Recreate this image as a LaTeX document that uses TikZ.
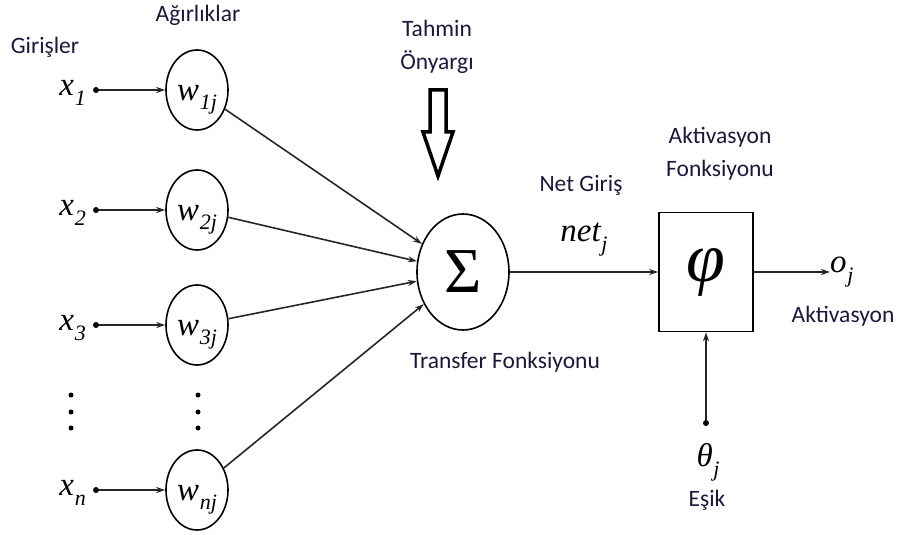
\documentclass[tikz,border=0pt]{standalone}
\usepackage{fontspec}
\setmainfont{Carlito}
\newfontfamily\tms{Liberation Serif}
\usetikzlibrary{shapes.geometric,arrows.meta}
\definecolor{yazi}{RGB}{25,25,60}
% italik harf ve alt indis
\newcommand{\ind}[2]{{\tms\itshape #1\kern0.02em\raisebox{-0.3em}{\fontsize{22}{24}\selectfont #2}}}
\tikzset{
	agirlik/.style={draw, ellipse, line width=1.6pt, minimum width=62pt,
		minimum height=80pt, inner sep=0pt, text height=24pt, text depth=4pt},
	ok/.style={line width=1.6pt, draw=black!85, -{Stealth[length=9pt,width=6pt]}},
	etiket/.style={text=yazi, font=\fontsize{23.5}{26}\selectfont},
	nokta/.style={circle, fill=black, inner sep=0pt, minimum size=6pt},
	buyuk/.style={font=\fontsize{33}{36}\selectfont},
}
\begin{document}
\begin{tikzpicture}[x=1pt,y=-1pt]
	\useasboundingbox (0,0) rectangle (898,535);
	% Girişler ve ağırlıklar
	\foreach \i/\y in {1/90, 2/210, 3/325, n/490}{
		\node[buyuk, anchor=east, inner sep=0pt] (x\i) at (86,\y+3) {\ind{x}{\i}};
		\node[nokta] (d\i) at (96,\y) {};
		\node[agirlik, buyuk] (w\i) at (197,\y) {\ind{w}{\i j}};
		\draw[ok] (d\i) -- (w\i);
	}
	% Noktalar
	\foreach \y in {395,412,428}{
		\node[nokta, minimum size=5pt] (px\y) at (71,\y) {};
		\node[nokta, minimum size=5pt] (pw\y) at (198,\y) {};
	}
	% Toplama
	\node[draw, ellipse, line width=1.6pt, minimum width=92pt,
		minimum height=116pt, inner sep=0pt] (sigma) at (463,272)
		{\fontsize{64}{64}\selectfont\tms Σ};
	\foreach \i in {1,2,3,n}
		\draw[ok] (w\i) -- (sigma);
	% Aktivasyon
	\node[draw, line width=1.6pt, minimum width=94pt, minimum height=119pt,
		inner sep=0pt] (phi) at (706,272) {\fontsize{70}{70}\selectfont\tms\itshape φ};
	\draw[ok] (sigma) -- (phi);
	\node[buyuk, anchor=west, inner sep=0pt] (o) at (830,272) {\ind{o}{j}};
	\draw[ok] (phi.east) -- (o.west |- phi.east);
	\node[nokta] (dt) at (706,423) {};
	\draw[ok] (dt) -- (phi);
	\node[buyuk] (theta) at (708,462) {\ind{θ}{j}};
	% Önyargı oku
	\draw[line width=3.5pt, line join=miter, fill=white] (430,90) -- (446,90)
		-- (446,132) -- (453,132) -- (438,176) -- (423,132) -- (430,132) -- cycle;
	% Etiketler
	\node[etiket] (giris) at (45,47) {Girişler};
	\node[etiket] (agir) at (198,15) {Ağırlıklar};
	\node[etiket] (tahmin) at (437,28) {Tahmin};
	\node[etiket] (onyargi) at (437,62) {Önyargı};
	\node[etiket] (netgiris) at (581,185) {Net Giriş};
	\node[buyuk] (net) at (584,240) {\ind{net}{j}};
	\node[etiket] (transfer) at (505,362) {Transfer Fonksiyonu};
	\node[etiket] (akt1) at (720,137) {Aktivasyon};
	\node[etiket] (akt2) at (720,170) {Fonksiyonu};
	\node[etiket] (akt) at (843,316) {Aktivasyon};
	\node[etiket] (esik) at (707,500) {Eşik};
\end{tikzpicture}
\end{document}
